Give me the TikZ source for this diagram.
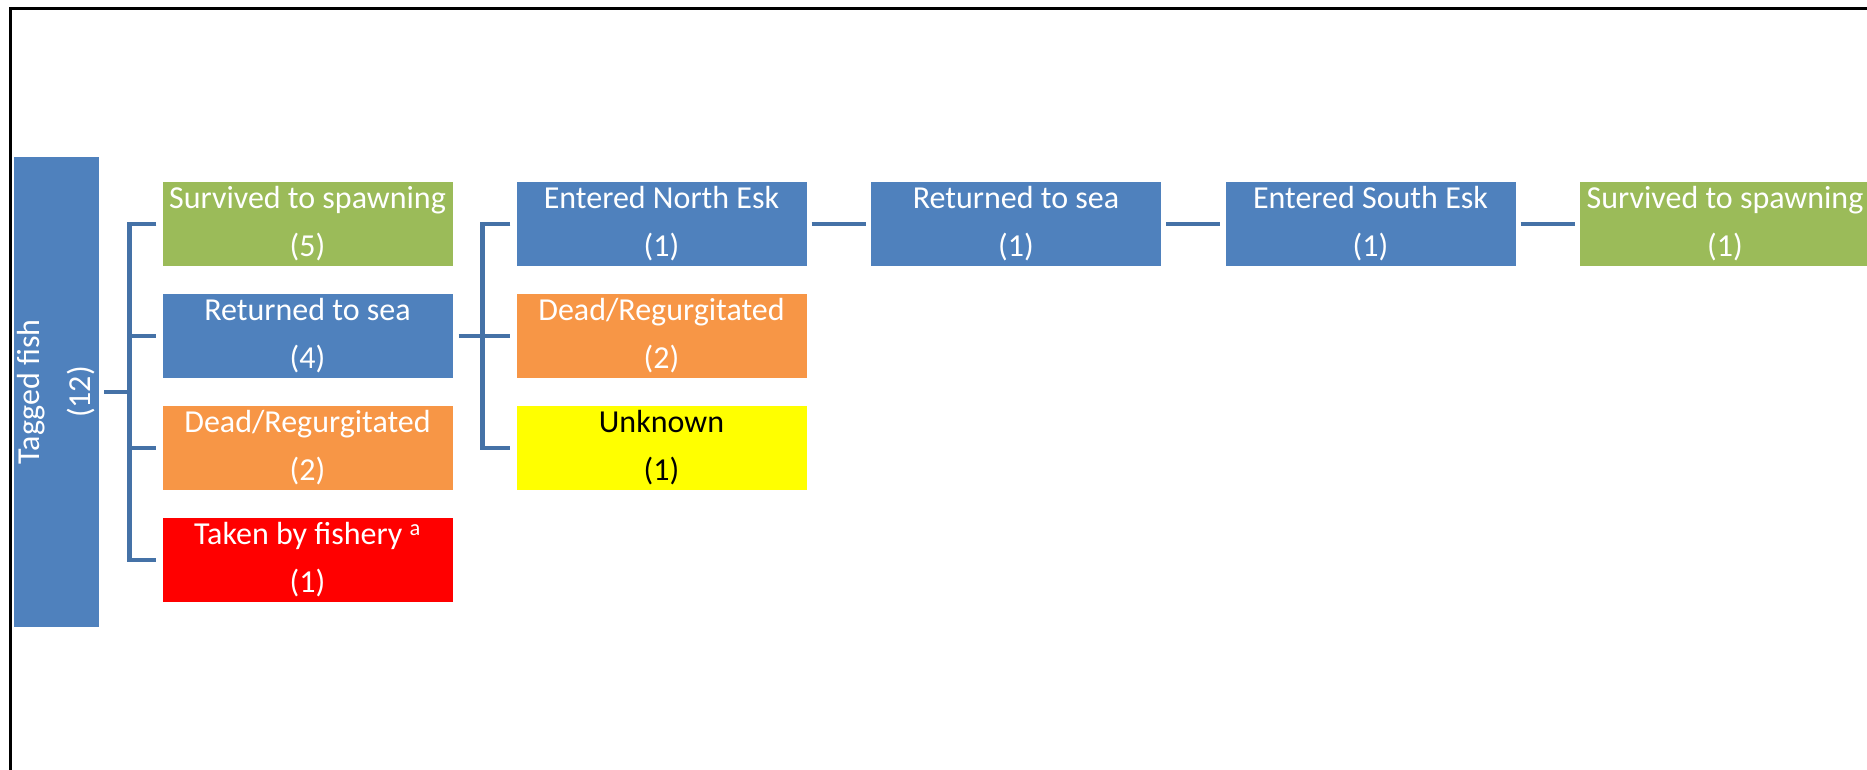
\documentclass[tikz,border=0pt]{standalone}
\usepackage{fontspec}
\setmainfont{Carlito}
\definecolor{fateblue}{RGB}{79,129,189}
\definecolor{fategreen}{RGB}{155,187,89}
\definecolor{fateorange}{RGB}{247,150,70}
\definecolor{fatered}{RGB}{255,0,0}
\definecolor{fateyellow}{RGB}{255,255,0}
\definecolor{linkblue}{RGB}{69,114,167}

\begin{document}
\begin{tikzpicture}[x=1pt, y=-1pt,
    box/.style={rectangle, inner sep=0pt, minimum width=290pt, minimum height=84pt,
      align=center, text=white, font=\fontsize{32}{48}\selectfont},
    link/.style={draw=linkblue, line width=4.5pt}]
  \useasboundingbox (0,0) rectangle (1867,770);

  % Frame
  \draw[line width=3pt] (10,770) -- (10,9) -- (1867,9);

  % Tagged fish
  \node[box, fill=fateblue, rotate=90, minimum width=470pt, minimum height=85pt,
    font=\fontsize{32}{51}\selectfont] (tagged) at (56.5,392) {Tagged fish\\(12)};

  % First outcomes
  \foreach \i/\col/\name/\num in {1/fategreen/Survived to spawning/5, 2/fateblue/Returned to sea/4,
      3/fateorange/{Dead/Regurgitated}/2, 4/fatered/Taken by fishery \textsuperscript{a}/1} {
    \node[box, fill=\col] (fate\i) at (307.5,112*\i+112) {\name\\(\num)};
  }

  % Fish returned to sea
  \foreach \i/\col/\txt/\name/\num in {1/fateblue/white/Entered North Esk/1,
      2/fateorange/white/{Dead/Regurgitated}/2, 3/fateyellow/black/Unknown/1} {
    \node[box, fill=\col, text=\txt] (later\i) at (661.5,112*\i+112) {\name\\(\num)};
  }

  % North Esk fish onwards
  \foreach \i/\col/\name in {1/fateblue/Returned to sea, 2/fateblue/Entered South Esk, 3/fategreen/Survived to spawning} {
    \node[box, fill=\col] (path\i) at (661.5+354.5*\i,224) {\name\\(1)};
  }

  % Connections
  \draw[link] ([xshift=5pt]tagged.south) -- ++(28pt,0);
  \draw[link] ([xshift=-6pt]fate1.west) -| ([xshift=-33pt]fate4.west) -- ([xshift=-6pt]fate4.west);
  \foreach \i in {2,3} {
    \draw[link] ([xshift=-33pt]fate\i.west) -- ([xshift=-6pt]fate\i.west);
  }

  \draw[link] ([xshift=-6pt]later1.west) -| ([xshift=-34pt]later3.west) -- ([xshift=-6pt]later3.west);
  \draw[link] ([xshift=6pt]fate2.east) -- ([xshift=-6pt]later2.west);

  \foreach \a/\b in {later1/path1, path1/path2, path2/path3} {
    \draw[link] ([xshift=5pt]\a.east) -- ([xshift=-5pt]\b.west);
  }
\end{tikzpicture}
\end{document}
